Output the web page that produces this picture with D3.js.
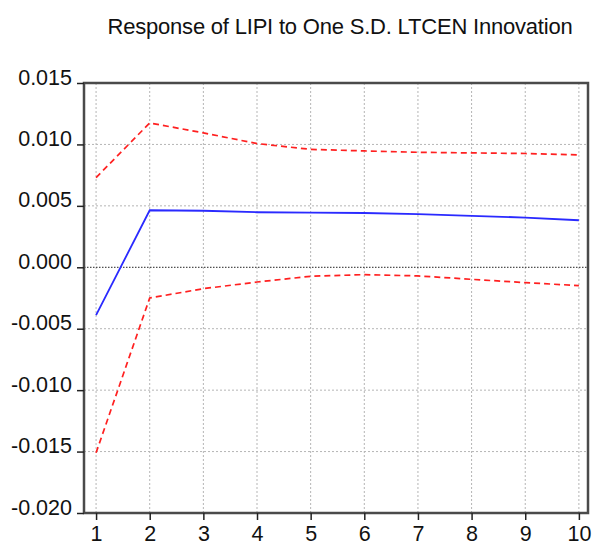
<!DOCTYPE html>
<html>
<head>
<meta charset="utf-8">
<script src="https://cdn.jsdelivr.net/npm/d3@7"></script>
<style>
  html, body { margin: 0; padding: 0; background: #fff; }
  svg { display: block; font-family: "Liberation Sans", Arial, sans-serif; }
</style>
</head>
<body>
<svg id="chart" width="594" height="545"></svg>
<script>
// Impulse response horizons
const periods = [1, 2, 3, 4, 5, 6, 7, 8, 9, 10];
// Response of LIPI and its ±2 S.E. bands
const response = [-0.0039, 0.00464, 0.0046, 0.00448, 0.00445, 0.00442, 0.00432, 0.00418, 0.00405, 0.00383];
const upperBand = [0.0073, 0.01175, 0.01094, 0.01007, 0.0096, 0.00947, 0.00936, 0.00931, 0.00926, 0.00915];
const lowerBand = [-0.0151, -0.0025, -0.00174, -0.0012, -0.00073, -0.0006, -0.0007, -0.00098, -0.00125, -0.00149];
const yTicks = [0.015, 0.010, 0.005, 0.000, -0.005, -0.010, -0.015, -0.020];
const titleText = "Response of LIPI to One S.D. LTCEN Innovation";

const svg = d3.select("#chart");
const W = 594, H = 545;
const margin = { top: 83, right: 6, bottom: 32, left: 84 };

const x = d3.scaleLinear().domain([0.775, 10.17]).range([margin.left, W - margin.right]);
const y = d3.scaleLinear().domain([-0.020, 0.015]).range([H - margin.bottom, margin.top]);

// grid
const grid = svg.append("g");
grid.selectAll(".vg").data(periods).join("line")
  .attr("x1", d => x(d)).attr("x2", d => x(d))
  .attr("y1", margin.top).attr("y2", H - margin.bottom)
  .attr("stroke", "#b5b5b5").attr("stroke-width", 1).attr("stroke-dasharray", "2,2");
grid.selectAll(".hg").data(yTicks.filter(d => d !== 0)).join("line")
  .attr("x1", margin.left).attr("x2", W - margin.right)
  .attr("y1", d => y(d)).attr("y2", d => y(d))
  .attr("stroke", "#b5b5b5").attr("stroke-width", 1).attr("stroke-dasharray", "2,2");
// zero line
svg.append("line")
  .attr("x1", margin.left).attr("x2", W - margin.right)
  .attr("y1", y(0)).attr("y2", y(0))
  .attr("stroke", "#222").attr("stroke-width", 1).attr("stroke-dasharray", "1.5,1.5");

// series
const line = d3.line().x((d, i) => x(periods[i])).y(d => y(d));
svg.append("path").datum(upperBand).attr("d", line)
  .attr("fill", "none").attr("stroke", "#ff2020").attr("stroke-width", 1.7).attr("stroke-dasharray", "6,4");
svg.append("path").datum(lowerBand).attr("d", line)
  .attr("fill", "none").attr("stroke", "#ff2020").attr("stroke-width", 1.7).attr("stroke-dasharray", "6,4");
svg.append("path").datum(response).attr("d", line)
  .attr("fill", "none").attr("stroke", "#2a2aff").attr("stroke-width", 1.8);

// frame
svg.append("rect")
  .attr("x", margin.left).attr("y", margin.top)
  .attr("width", W - margin.left - margin.right).attr("height", H - margin.top - margin.bottom)
  .attr("fill", "none").attr("stroke", "#4a4a4a").attr("stroke-width", 2.5);

// axes
const yAxis = d3.axisLeft(y).tickValues(yTicks).tickSize(7).tickSizeOuter(0)
  .tickFormat(d3.format(".3f"));
const gy = svg.append("g").attr("transform", `translate(${margin.left},0)`).call(yAxis);
gy.select(".domain").remove();
gy.selectAll(".tick line").attr("stroke", "#222").attr("stroke-width", 1.5);
gy.selectAll(".tick text")
  .attr("x", -12).attr("dy", "0.05em")
  .attr("font-size", 21.5).attr("fill", "#111")
  .attr("font-family", "'Liberation Sans', Arial, sans-serif")
  .text(d => d3.format(".3f")(d).replace("−", "-"));

const xAxis = d3.axisBottom(x).tickValues(periods).tickSize(7).tickSizeOuter(0)
  .tickFormat(d3.format("d"));
const gx = svg.append("g").attr("transform", `translate(0,${H - margin.bottom})`).call(xAxis);
gx.select(".domain").remove();
gx.selectAll(".tick line").attr("stroke", "#222").attr("stroke-width", 1.5);
gx.selectAll(".tick text")
  .attr("y", 13).attr("dy", "0.71em")
  .attr("font-size", 21.5).attr("fill", "#111")
  .attr("font-family", "'Liberation Sans', Arial, sans-serif");

// title
svg.append("text")
  .attr("x", 340).attr("y", 34)
  .attr("text-anchor", "middle")
  .attr("font-size", 22).attr("fill", "#111")
  .attr("letter-spacing", "-0.2px")
  .text(titleText);
</script>
</body>
</html>
